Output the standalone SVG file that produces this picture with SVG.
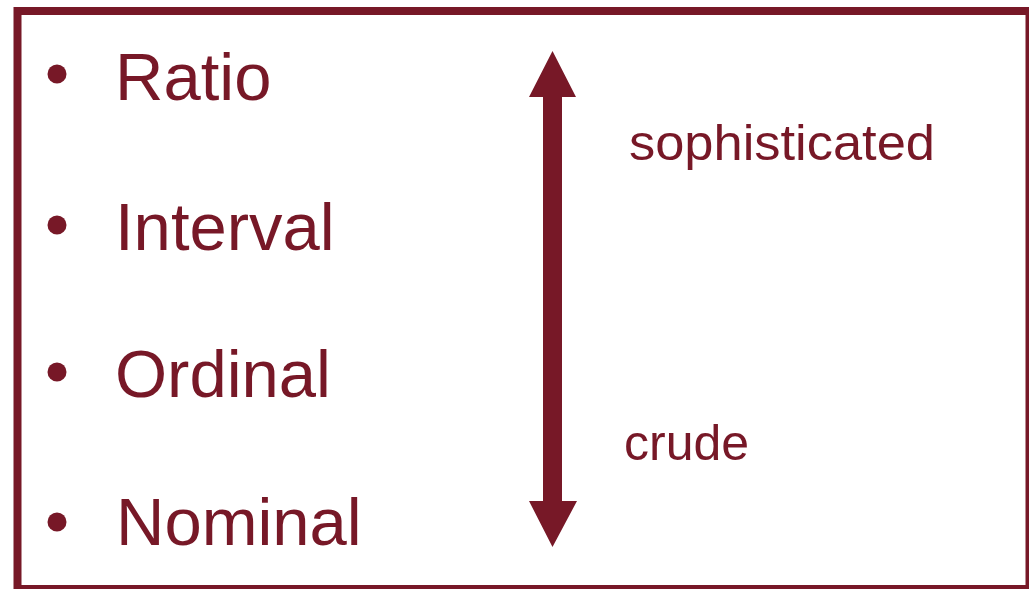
<svg xmlns="http://www.w3.org/2000/svg" width="1029" height="589" viewBox="0 0 1029 589">
<style>
.c{fill:#771827}
.lbl{font-family:"Liberation Sans",Arial,sans-serif;fill:#771827}
.big{font-size:67px}
.small{font-size:50px}
</style>
<rect x="0" y="0" width="1029" height="589" fill="#ffffff"/>
<rect id="frame" x="17.5" y="11" width="1012" height="578" fill="none" stroke="#771827" stroke-width="8"/>
<g id="ratio"><circle class="c" cx="57" cy="74" r="9.5"/><text class="lbl big" x="115" y="100">Ratio</text></g>
<g id="interval"><circle class="c" cx="57" cy="225" r="9.5"/><text class="lbl big" x="115" y="250">Interval</text></g>
<g id="ordinal"><circle class="c" cx="57" cy="372" r="9.5"/><text class="lbl big" x="115" y="397">Ordinal</text></g>
<g id="nominal"><circle class="c" cx="57" cy="522" r="9.5"/><text class="lbl big" x="116" y="545">Nominal</text></g>
<g id="sophisticated"><text class="lbl small" x="629" y="160" textLength="306" lengthAdjust="spacingAndGlyphs">sophisticated</text></g>
<g id="crude"><text class="lbl small" x="624" y="460">crude</text></g>
<g id="connectors">
<polygon class="c" points="552.5,51 576,97 562,97 562,501 577,501 552.5,547 529,501 543,501 543,97 529,97"/>
</g>
</svg>
